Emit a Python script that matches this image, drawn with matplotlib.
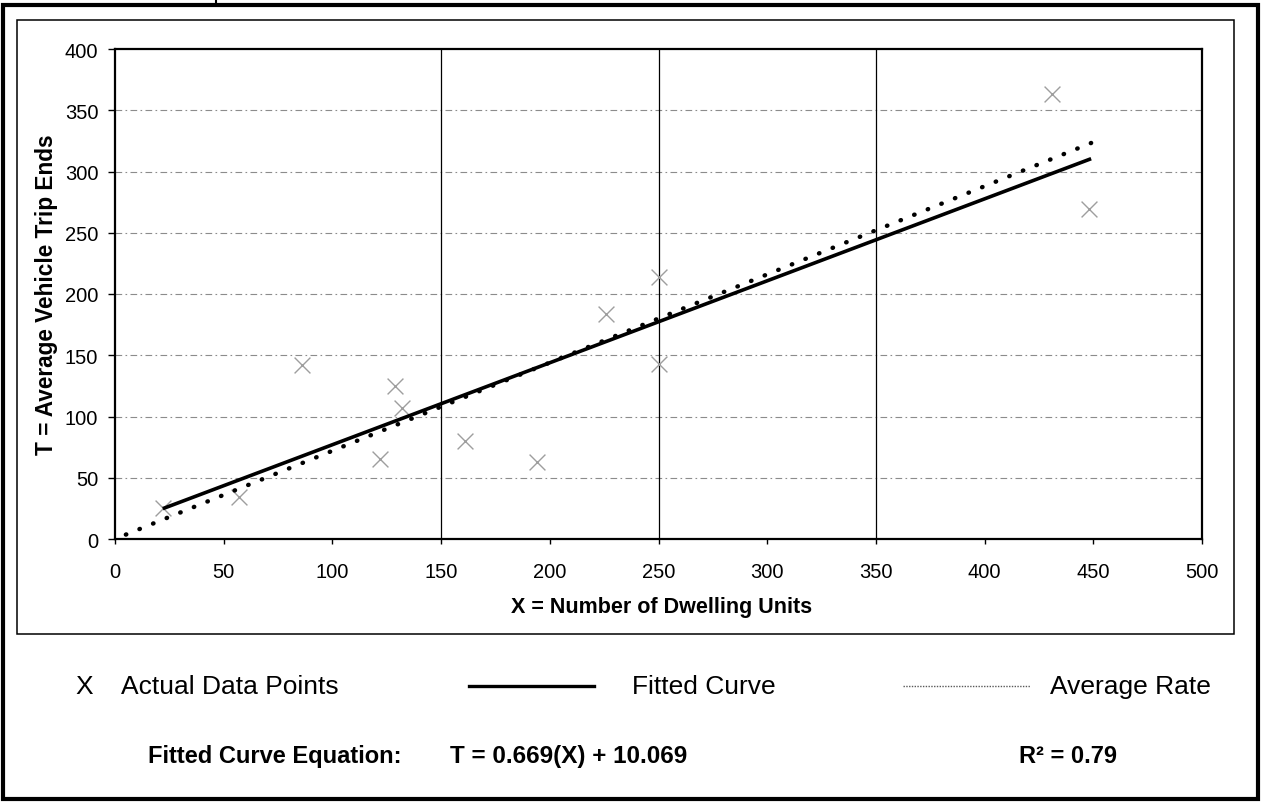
import numpy as np
import matplotlib
matplotlib.use('Agg')
import matplotlib.pyplot as plt
from matplotlib.lines import Line2D
from matplotlib.patches import Rectangle

# data
dwelling_units = [22, 57, 86, 122, 129, 132, 161, 194, 226, 250, 250, 431, 448]
trip_ends = [25, 34, 142, 65, 125, 107, 80, 63, 184, 214, 143, 363, 269]

fit_slope, fit_intercept = 0.669, 10.069
fit_range = [22, 449]
avg_rate = 0.72
avg_range = [5, 449]

x_ticks = [0, 50, 100, 150, 200, 250, 300, 350, 400, 450, 500]
y_ticks = [0, 50, 100, 150, 200, 250, 300, 350, 400]
x_grid = [150, 250, 350]
y_grid = [50, 100, 150, 200, 250, 300, 350]

plt.rcParams.update({'font.family': ['Liberation Sans', 'DejaVu Sans'],
                     'font.size': 14})

W, H = 1261, 803
fig = plt.figure(figsize=(W / 100, H / 100), dpi=100)
fig.patch.set_facecolor('white')


def px(x0, y0, x1, y1):
    # pixel box (from top-left) -> figure fraction rect
    return [x0 / W, 1 - y1 / H, (x1 - x0) / W, (y1 - y0) / H]


ax = fig.add_axes(px(115, 50, 1202, 540))

# gridlines
for g in y_grid:
    ax.axhline(g, color='0.55', lw=0.8, dashes=(6, 3, 1.5, 3), zorder=1)
for g in x_grid:
    ax.axvline(g, color='black', lw=0.9, zorder=1)

# data points
ax.scatter(dwelling_units, trip_ends, marker='x', s=130, color='0.62', linewidths=1.0, zorder=3)

# fitted curve
xf = np.array(fit_range)
ax.plot(xf, fit_slope * xf + fit_intercept, color='black', lw=2.6, solid_capstyle='butt', zorder=4)

# average rate
xa = np.array(avg_range)
ax.plot(xa, avg_rate * xa, color='black', lw=3.2, linestyle=(0, (0.1, 3.2)),
        dash_capstyle='round', zorder=4)

ax.set_xlim(0, 500)
ax.set_ylim(0, 400)
ax.set_xticks(x_ticks)
ax.set_yticks(y_ticks)
ax.tick_params(axis='x', direction='out', length=3.5, width=1, pad=13, labelsize=14.5)
ax.tick_params(axis='y', direction='out', length=5, width=1, pad=7, labelsize=14.5)
for s in ax.spines.values():
    s.set_linewidth(1.6)

ax.set_xlabel('X = Number of Dwelling Units', fontsize=15.5, fontweight='bold')
ax.xaxis.set_label_coords(0.503, -0.116)
ax.set_ylabel('T = Average Vehicle Trip Ends', fontsize=16.3, fontweight='bold')
ax.yaxis.set_label_coords(-0.052, 0.5)

# frames
outer = px(3, 6, 1258, 800)
inner = px(17, 21, 1234, 635)
fig.add_artist(Rectangle(outer[:2], outer[2], outer[3], transform=fig.transFigure,
                         fill=False, ec='black', lw=3.0))
fig.add_artist(Rectangle(inner[:2], inner[2], inner[3], transform=fig.transFigure,
                         fill=False, ec='black', lw=1.1))
fig.add_artist(Line2D([216 / W, 216 / W], [1, 1 - 6 / H], transform=fig.transFigure, color='black', lw=1.5))

# legend row
ly = 1 - 687 / H
fig.text(84 / W, ly, 'X', fontsize=19, ha='center', va='center')
fig.text(121 / W, ly, 'Actual Data Points', fontsize=19, ha='left', va='center')
fig.add_artist(Line2D([469 / W, 594 / W], [ly, ly], transform=fig.transFigure, color='black', lw=2.4))
fig.text(632 / W, ly, 'Fitted Curve', fontsize=19, ha='left', va='center')
fig.add_artist(Line2D([903 / W, 1030 / W], [ly, ly], transform=fig.transFigure, color='0.35', lw=1.0,
                      linestyle=(0, (1, 1))))
fig.text(1050 / W, ly, 'Average Rate', fontsize=19, ha='left', va='center')

# equation row
ey = 1 - 757 / H
fig.text(148 / W, ey, 'Fitted Curve Equation:', fontsize=17, fontweight='bold', ha='left', va='center')
fig.text(450 / W, ey, f'T = {fit_slope}(X) + {fit_intercept}', fontsize=17.5, fontweight='bold',
         ha='left', va='center')
fig.text(1117 / W, ey, 'R² = 0.79', fontsize=17, fontweight='bold', ha='right', va='center')

fig.savefig('out.png', dpi=100)
